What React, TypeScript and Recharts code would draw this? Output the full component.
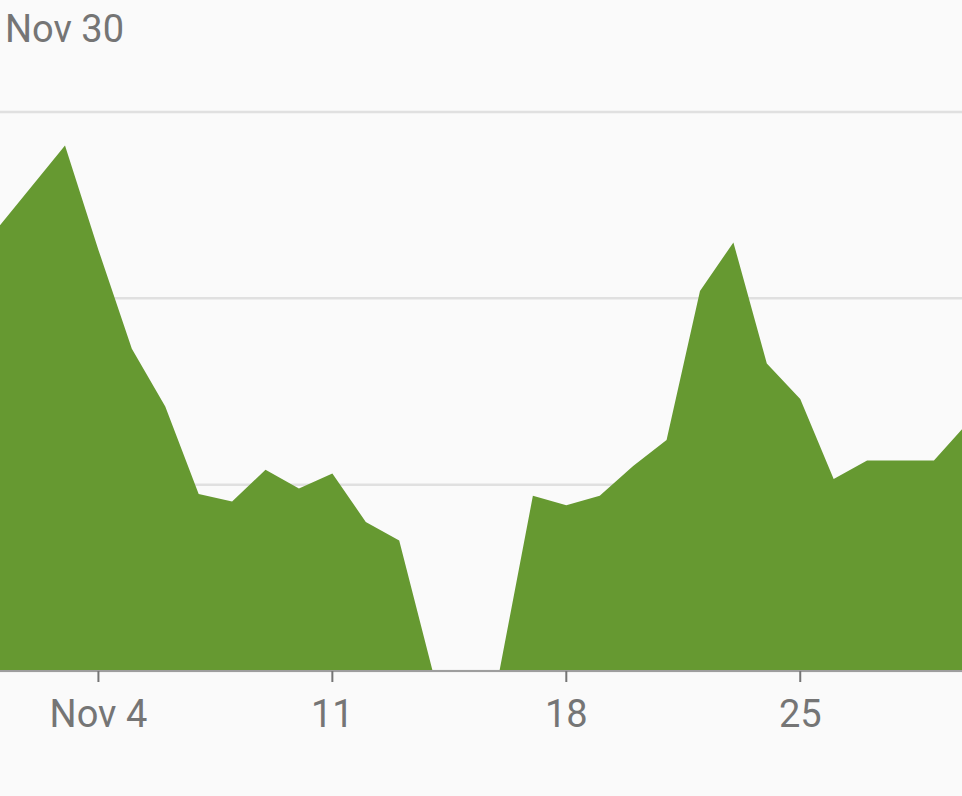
import { AreaChart, Area, XAxis, YAxis, CartesianGrid } from 'recharts'

// days of November and the daily value (one gridline = 100)
const days = [1, 2, 3, 4, 5, 6, 7, 8, 9, 10, 11, 12, 13, 14, 15, 16, 17, 18, 19, 20, 21, 22, 23, 24, 25, 26, 27, 28, 29, 30]
const values = [238, 260, 282, 226, 173, 142, 95, 91, 108, 98, 106, 80, 70, 0, 0, 0, 94, 89, 94, 110, 124, 204, 230, 165, 146, 103, 113, 113, 113, 133]

const tickDays = [4, 11, 18, 25]
const tickLabels = ['Nov 4', '11', '18', '25']
const gridValues = [0, 100, 200, 300]
const title = 'Nov 30'

const data = days.map((day, i) => ({ day, value: values[i] }))

const GREEN = '#669931'
const TEXT = '#757575'

export default function App() {
  return (
    <div style={{ position: 'relative', width: 962, height: 796, background: '#fafafa', fontFamily: 'Roboto, sans-serif' }}>
      <style>{'body{margin:0;background:#fafafa}'}</style>
      <div style={{ position: 'absolute', left: 5, top: 6, fontSize: 38, lineHeight: '46px', color: TEXT }}>{title}</div>
      <AreaChart width={962} height={796} data={data} margin={{ top: 112, right: 0, bottom: 0, left: 0 }}>
        <CartesianGrid vertical={false} stroke="#e0e0e0" strokeWidth={2.5} />
        <XAxis
          type="number"
          dataKey="day"
          domain={[1.055, 29.84]}
          allowDataOverflow
          ticks={tickDays}
          tickFormatter={(d: number) => tickLabels[tickDays.indexOf(d)]}
          height={125}
          stroke="#9e9e9e"
          strokeWidth={2}
          tickLine={{ stroke: TEXT, strokeWidth: 2 }}
          tickSize={11}
          tickMargin={18}
          tick={{ fill: TEXT, fontSize: 38, fontFamily: 'Roboto, sans-serif' }}
          interval={0}
        />
        <YAxis hide domain={[0, 300]} ticks={gridValues} />
        <Area type="linear" dataKey="value" fill={GREEN} fillOpacity={1} stroke="none" isAnimationActive={false} />
      </AreaChart>
    </div>
  )
}
